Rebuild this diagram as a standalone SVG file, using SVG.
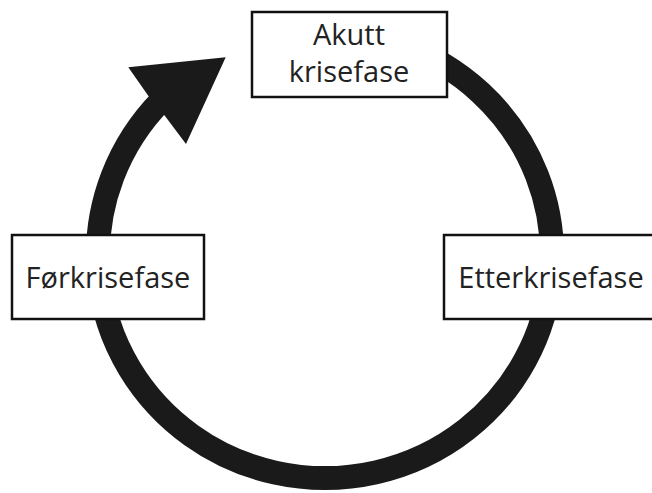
<svg xmlns="http://www.w3.org/2000/svg" width="652" height="493" viewBox="0 0 652 493">
  <style>
    .box { fill: #ffffff; stroke: #111111; stroke-width: 2.5; }
    .lbl { font-family: "Open Sans", "Liberation Sans", sans-serif; font-size: 29px; fill: #222222; text-anchor: middle; }
    .ring { fill: none; stroke: #1a1a1a; stroke-width: 24; }
    .head { fill: #1a1a1a; }
  </style>
  <rect width="652" height="493" fill="#ffffff"/>
  <g id="connectors">
    <path class="ring" d="M161.7,100.1 A227,223 0 1 0 402.6,45.5"/>
    <polygon class="head" points="128.3,67.3 225.7,57.3 186,144 165,116 149.3,97.3"/>
  </g>
  <g id="node-akutt">
    <rect class="box" x="252" y="12" width="195" height="85"/>
    <text class="lbl" x="349" y="45">Akutt</text>
    <text class="lbl" x="349" y="82">krisefase</text>
  </g>
  <g id="node-forkrise">
    <rect class="box" x="12" y="235" width="192" height="84"/>
    <text class="lbl" x="108" y="288">Førkrisefase</text>
  </g>
  <g id="node-etterkrise">
    <rect class="box" x="444" y="235" width="214" height="84"/>
    <text class="lbl" x="551" y="288">Etterkrisefase</text>
  </g>
</svg>
